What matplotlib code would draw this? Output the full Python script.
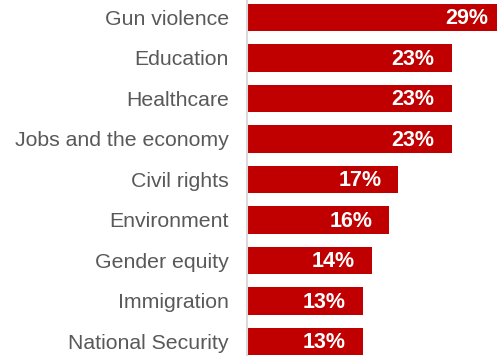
import matplotlib
matplotlib.use("Agg")
import matplotlib.pyplot as plt

categories = ["Gun violence", "Education", "Healthcare", "Jobs and the economy",
              "Civil rights", "Environment", "Gender equity", "Immigration",
              "National Security"]
values = [29, 23, 23, 23, 17, 16, 14, 13, 13]
labels = [f"{v}%" for v in values]

plt.rcParams['font.family'] = ['Liberation Sans', 'DejaVu Sans']

fig = plt.figure(figsize=(4.97, 3.56), dpi=100)
ax = fig.add_axes([247/497, 0, 250/497, 1])
y = list(range(len(categories)))
ax.barh(y, values, height=0.667, color="#c00000", edgecolor="none")
ax.set_xlim(0, 250/8.9)
ax.set_ylim((356-17.5)/40.5, -17.5/40.5)
for s in ["top", "right", "bottom"]:
    ax.spines[s].set_visible(False)
ax.spines["left"].set_color("#d9d9d9")
ax.spines["left"].set_linewidth(1.5)
ax.set_xticks([])
ax.set_yticks(y)
ax.set_yticklabels(categories, fontsize=15.3, color="#595959")
ax.tick_params(axis="y", length=0, pad=13)
for yi, v, lab in zip(y, values, labels):
    ax.text(v - 17/8.9, yi + 0.03, lab, ha="right", va="center", color="white",
            fontsize=15.5, fontweight="bold", clip_on=False)
fig.savefig("out.png", dpi=100)
